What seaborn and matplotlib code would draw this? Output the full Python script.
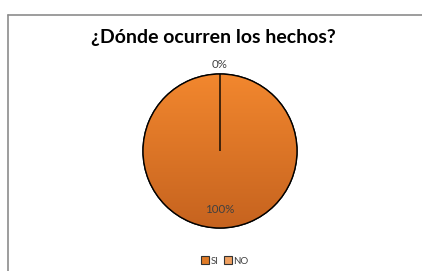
import numpy as np
import matplotlib
matplotlib.use("Agg")
import matplotlib.pyplot as plt
import seaborn as sns
from matplotlib.patches import Patch, Wedge
from matplotlib.lines import Line2D
from matplotlib.colors import LinearSegmentedColormap

categories = ["SI", "NO"]
values = [100, 0]
pct_labels = ["100%", "0%"]
title = "¿Dónde ocurren los hechos?"

sns.set_theme(style="white")
plt.rcParams['font.family'] = ['Lato', 'DejaVu Sans']

colors = ["#E07B27", "#F0A060"]

fig = plt.figure(figsize=(4.22, 2.71), dpi=100)
fig.patch.set_facecolor("white")

# chart frame (gray border on top and left)
fig.add_artist(Line2D([8/422, 1.0], [1 - 15/271, 1 - 15/271], transform=fig.transFigure,
                      color="#8c8c8c", lw=1.2))
fig.add_artist(Line2D([8/422, 8/422], [0, 1 - 15/271], transform=fig.transFigure,
                      color="#8c8c8c", lw=1.2))

cx, cy, r = 220/422, 1 - 151/271, 77
w = 2 * r / 422 * 1.25
h = 2 * r / 271 * 1.25
ax = fig.add_axes([cx - w/2, cy - h/2, w, h])

wedges, _ = ax.pie(values, colors=colors, startangle=90, counterclock=False,
                   wedgeprops=dict(edgecolor="black", linewidth=1.0),
                   radius=0.8)
ax.set_aspect("equal")
ax.axis("off")

# vertical shading of the main slice (lighter top, darker bottom)
grad_cmap = LinearSegmentedColormap.from_list("g", ["#C6631F", "#F2872E"])
grad = np.linspace(0, 1, 256).reshape(-1, 1)
for wd in wedges:
    if wd.theta2 - wd.theta1 > 1:
        im = ax.imshow(grad, cmap=grad_cmap, extent=(-0.8, 0.8, -0.8, 0.8),
                       origin="lower", aspect="auto", zorder=wd.get_zorder() + 0.1)
        im.set_clip_path(wd)
        edge = Wedge(wd.center, wd.r, wd.theta1, wd.theta2,
                     facecolor="none", edgecolor="black",
                     linewidth=1.0, zorder=wd.get_zorder() + 0.2)
        ax.add_patch(edge)
for wd in wedges:
    if wd.theta2 - wd.theta1 <= 1:
        wd.set_zorder(5)
ax.set_xlim(-1, 1)
ax.set_ylim(-1, 1)

# percentage labels placed from wedge angles
total = sum(values)
angle = 90.0
for val, lab in zip(values, pct_labels):
    span = 360.0 * val / total
    mid = np.deg2rad(angle - span / 2)
    d = 0.8 * 1.12 if val == 0 else 0.8 * 0.76
    ax.text(d * np.cos(mid), d * np.sin(mid), lab, ha="center", va="center",
            fontsize=8.3, color="#404040", zorder=6)
    angle -= span

fig.text(213/422, 1 - 37/271, title, ha="center", va="center",
         fontsize=14, fontweight="bold", color="black")

handles = [Patch(facecolor=c, edgecolor="#333333", linewidth=0.8) for c in colors]
fig.legend(handles, categories, loc="center", bbox_to_anchor=(225/422, 1 - 261/271),
           ncol=2, frameon=False, fontsize=7, handlelength=0.8, handleheight=0.8,
           handletextpad=0.15, columnspacing=0.6, labelcolor="#404040")

fig.savefig("out.png", dpi=100, facecolor="white")
